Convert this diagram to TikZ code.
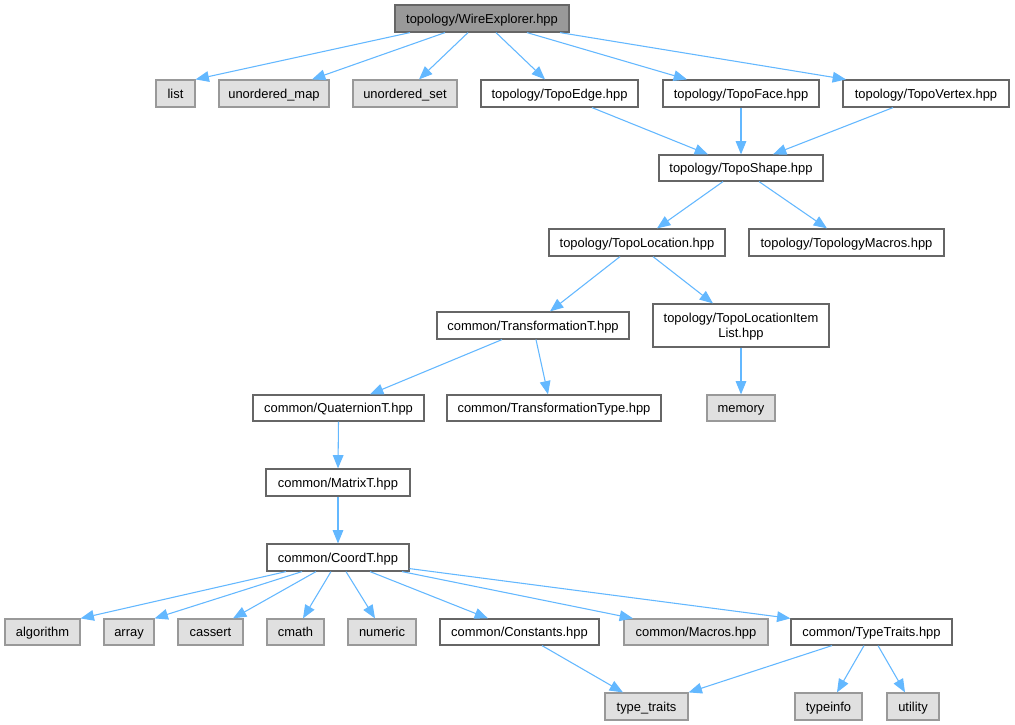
\documentclass[tikz,border=0pt]{standalone}
\usepackage{fontspec}
\setmainfont{Liberation Sans}
\usetikzlibrary{arrows.meta,calc}
\definecolor{edgec}{HTML}{63B8FF}
\definecolor{dborder}{HTML}{666666}
\definecolor{gborder}{HTML}{999999}
\definecolor{gfill}{HTML}{E0E0E0}
\definecolor{mfill}{HTML}{999999}
\newcommand\gbx[7]{\node[#7, minimum width={(#4-#2)*0.75pt}, minimum height={(#5-#3)*0.75pt}] (#1) at ({(#2+#4)/2},{(#3+#5)/2}) {#6};}
\tikzset{
  base/.style={rectangle, inner sep=0pt, line width=0.9pt, font=\fontsize{9.7}{11.5}\selectfont, text=black, text height=9pt, text depth=1.8pt},
  mainbox/.style={base, draw=dborder, fill=mfill},
  filebox/.style={base, draw=dborder, fill=white, align=center},
  twoline/.style={filebox, text height=20.5pt},
  sysbox/.style={base, draw=gborder, fill=gfill},
  dep/.style={draw=edgec, line width=0.8pt, -{Triangle[length=10pt,width=8pt]}}
}
\begin{document}
\begin{tikzpicture}[x=0.75pt,y=-0.75pt]
\useasboundingbox[fill=white] (0,0) rectangle (1015,725);
% nodes
\gbx{we}{395}{5}{569}{32}{topology/WireExplorer.hpp}{mainbox}
\gbx{list}{156}{80}{195}{107}{list}{sysbox}
\gbx{umap}{219}{80}{329}{107}{unordered\_map}{sysbox}
\gbx{uset}{353}{80}{457}{107}{unordered\_set}{sysbox}
\gbx{edge}{481}{80}{638}{107}{topology/TopoEdge.hpp}{filebox}
\gbx{face}{663}{80}{819}{107}{topology/TopoFace.hpp}{filebox}
\gbx{vertex}{843}{80}{1009}{107}{topology/TopoVertex.hpp}{filebox}
\gbx{shape}{659}{155}{823}{181}{topology/TopoShape.hpp}{filebox}
\gbx{loc}{549}{229}{725}{256}{topology/TopoLocation.hpp}{filebox}
\gbx{tmac}{749}{229}{944}{256}{topology/TopologyMacros.hpp}{filebox}
\gbx{trT}{437}{312}{629}{339}{common/TransformationT.hpp}{filebox}
\gbx{lil}{653}{304}{829}{347}{topology/TopoLocationItem\\List.hpp}{twoline}
\gbx{quat}{253}{395}{424}{421}{common/QuaternionT.hpp}{filebox}
\gbx{ttype}{447}{395}{661}{421}{common/TransformationType.hpp}{filebox}
\gbx{mem}{707}{395}{775}{421}{memory}{sysbox}
\gbx{mat}{266}{469}{410}{496}{common/MatrixT.hpp}{filebox}
\gbx{coord}{267}{544}{409}{571}{common/CoordT.hpp}{filebox}
\gbx{alg}{5}{619}{80}{645}{algorithm}{sysbox}
\gbx{arr}{104}{619}{154}{645}{array}{sysbox}
\gbx{cas}{178}{619}{243}{645}{cassert}{sysbox}
\gbx{cmath}{267}{619}{324}{645}{cmath}{sysbox}
\gbx{num}{348}{619}{416}{645}{numeric}{sysbox}
\gbx{const}{440}{619}{599}{645}{common/Constants.hpp}{filebox}
\gbx{mac}{624}{619}{768}{645}{common/Macros.hpp}{sysbox}
\gbx{tt}{791}{619}{952}{645}{common/TypeTraits.hpp}{filebox}
\gbx{ttr}{605}{693}{688}{720}{type\_traits}{sysbox}
\gbx{tinfo}{795}{693}{862}{720}{typeinfo}{sysbox}
\gbx{util}{887}{693}{939}{720}{utility}{sysbox}
% edges
\draw[dep] ($(we.south)+(-72,0)$) -- (list.north east);
\draw[dep] ($(we.south)+(-37,0)$) -- ($(umap.north)+(38,0)$);
\draw[dep] ($(we.south)+(-14,0)$) -- ($(uset.north)+(14,0)$);
\draw[dep] ($(we.south)+(14,0)$) -- ($(edge.north)+(-14.5,0)$);
\draw[dep] ($(we.south)+(45,0)$) -- ($(face.north)+(-54,0)$);
\draw[dep] ($(we.south)+(78,0)$) -- ($(vertex.north)+(-80,0)$);
\draw[dep] ($(edge.south)+(32.5,0)$) -- ($(shape.north)+(-33,0)$);
\draw[dep] (face.south) -- (shape.north);
\draw[dep] ($(vertex.south)+(-33,0)$) -- ($(shape.north)+(32,0)$);
\draw[dep] ($(shape.south)+(-18,0)$) -- ($(loc.north)+(20,0)$);
\draw[dep] ($(shape.south)+(18,0)$) -- ($(tmac.north)+(-19.5,0)$);
\draw[dep] ($(loc.south)+(-17,0)$) -- ($(trT.north)+(17,0)$);
\draw[dep] ($(loc.south)+(16,0)$) -- ($(lil.north)+(-28,0)$);
\draw[dep] ($(trT.south)+(-31,0)$) -- ($(quat.north)+(31.5,0)$);
\draw[dep] ($(trT.south)+(3,0)$) -- ($(ttype.north)+(-6,0)$);
\draw[dep] (lil.south) -- (mem.north);
\draw[dep] (quat.south) -- (mat.north);
\draw[dep] (mat.south) -- (coord.north);
\draw[dep] ($(coord.south)+(-52,0)$) -- (alg.north east);
\draw[dep] ($(coord.south)+(-36,0)$) -- (arr.north east);
\draw[dep] ($(coord.south)+(-22,0)$) -- ($(cas.north)+(22.5,0)$);
\draw[dep] ($(coord.south)+(-7,0)$) -- ($(cmath.north)+(7.5,0)$);
\draw[dep] ($(coord.south)+(8,0)$) -- ($(num.north)+(-7,0)$);
\draw[dep] ($(coord.south)+(32,0)$) -- ($(const.north)+(-31.5,0)$);
\draw[dep] ($(coord.south)+(64,0)$) -- ($(mac.north)+(-63,0)$);
\draw[dep] ($(coord.south east)+(0,-3)$) -- (tt.north west);
\draw[dep] ($(const.south)+(22.5,0)$) -- ($(ttr.north)+(-23.5,0)$);
\draw[dep] ($(tt.south)+(-39.5,0)$) -- (ttr.north east);
\draw[dep] ($(tt.south)+(-7.5,0)$) -- ($(tinfo.north)+(8.5,0)$);
\draw[dep] ($(tt.south)+(6.5,0)$) -- ($(util.north)+(-8,0)$);
\end{tikzpicture}
\end{document}
